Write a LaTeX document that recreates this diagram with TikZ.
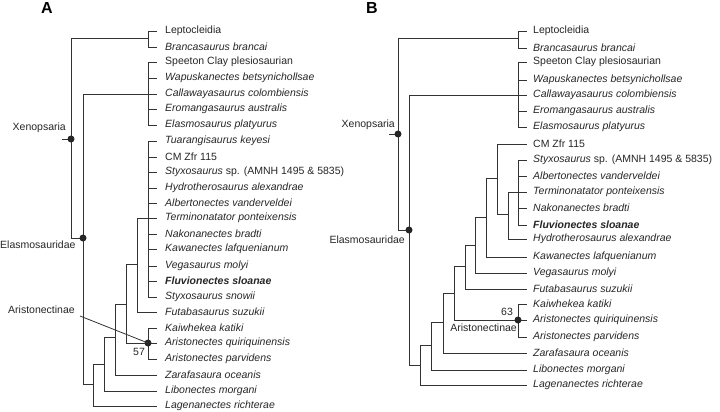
\documentclass[tikz,border=0pt]{standalone}
\usepackage{fontspec}
\setmainfont{Liberation Sans}
\begin{document}
\begin{tikzpicture}[x=1pt,y=-1pt,
  br/.style={line width=0.8pt,draw=black!80},
  lab/.style={anchor=west,inner sep=0pt,font=\fontsize{10.5}{12}\selectfont,text=black!85},
  clab/.style={inner sep=0pt,font=\fontsize{10.5}{12}\selectfont,text=black!85},
  dot/.style={circle,fill=black!85,inner sep=0pt,minimum size=7pt},
  panel/.style={inner sep=0pt,font=\fontsize{16}{18}\bfseries\selectfont}]
\useasboundingbox (0,0) rectangle (720,412);
\node[panel,anchor=north west] (pA) at (41,2) {A};
\node[panel,anchor=north west] (pB) at (366,2) {B};
% ---------- Panel A ----------
\foreach \y/\t [count=\i] in {31/Leptocleidia,47/\textit{Brancasaurus brancai},62/Speeton Clay plesiosaurian,78/\textit{Wapuskanectes betsynichollsae},94/\textit{Callawayasaurus colombiensis},109/\textit{Eromangasaurus australis},125/\textit{Elasmosaurus platyurus},141/\textit{Tuarangisaurus keyesi},157/CM Zfr 115,172/\textit{Styxosaurus} sp. (AMNH 1495 \& 5835),188/\textit{Hydrotherosaurus alexandrae},203/\textit{Albertonectes vanderveldei},218/\textit{Terminonatator ponteixensis},234/\textit{Nakonanectes bradti},249/\textit{Kawanectes lafquenianum},266/\textit{Vegasaurus molyi},281/\textbf{\textit{Fluvionectes sloanae}},297/\textit{Styxosaurus snowii},328/\textit{Kaiwhekea katiki},343/\textit{Aristonectes quiriquinensis},359/\textit{Aristonectes parvidens}}
  {\draw[br] (148,\y) -- (157,\y); \node[lab] (a\i) at (165,\y) {\t};}
\node[lab] (aFut) at (165,312) {\textit{Futabasaurus suzukii}};
\node[lab] (aZar) at (165,375) {\textit{Zarafasaura oceanis}};
\node[lab] (aLib) at (165,391) {\textit{Libonectes morgani}};
\node[lab] (aLag) at (165,406) {\textit{Lagenanectes richterae}};
\draw[br] (148,31) -- (148,47) (148,62) -- (148,125) (148,141) -- (148,297) (148,328) -- (148,359);
\draw[br] (62,139) -- (71,139);
\draw[br] (148,38) -- (71,38) -- (71,238) -- (83,238);
\draw[br] (148,94) -- (83,94) -- (83,384) -- (93,384);
\draw[br] (157,406) -- (93,406) -- (93,364) -- (104,364);
\draw[br] (157,391) -- (104,391) -- (104,337) -- (115,337);
\draw[br] (157,375) -- (115,375) -- (115,304) -- (126,304);
\draw[br] (148,343) -- (126,343) -- (126,264) -- (137,264);
\draw[br] (157,312) -- (137,312) -- (137,218) -- (148,218);
\node[dot] (xA) at (71,139) {};
\node[dot] (eA) at (83,238) {};
\node[dot] (arA) at (148,343) {};
\node[clab,anchor=south east] (xAl) at (66,133) {Xenopsaria};
\node[clab,anchor=west] (eAl) at (0,245) {Elasmosauridae};
\node[clab,anchor=west] (arAl) at (8,310) {Aristonectinae};
\node[clab] (nA) at (139,352) {57};
\draw[br] (80,316) -- (arA.center);
% ---------- Panel B ----------
\foreach \y/\t [count=\i] in {31/Leptocleidia,48/\textit{Brancasaurus brancai},62/Speeton Clay plesiosaurian,80/\textit{Wapuskanectes betsynichollsae},95/\textit{Callawayasaurus colombiensis},111/\textit{Eromangasaurus australis},127/\textit{Elasmosaurus platyurus},160/\textit{Styxosaurus} sp. (AMNH 1495 \& 5835),176/\textit{Albertonectes vanderveldei},192/\textit{Terminonatator ponteixensis},208/\textit{Nakonanectes bradti},225/\textbf{\textit{Fluvionectes sloanae}},304/\textit{Kaiwhekea katiki},320/\textit{Aristonectes quiriquinensis},337/\textit{Aristonectes parvidens}}
  {\draw[br] (518,\y) -- (527,\y); \node[lab] (b\i) at (533,\y) {\t};}
\foreach \y/\x/\t [count=\i] in {144/497/CM Zfr 115,239/508/\textit{Hydrotherosaurus alexandrae},257/486/\textit{Kawanectes lafquenianum},273/475/\textit{Vegasaurus molyi},289/465/\textit{Futabasaurus suzukii},353/443/\textit{Zarafasaura oceanis},370/431/\textit{Libonectes morgani},385/420/\textit{Lagenanectes richterae}}
  {\draw[br] (\x,\y) -- (527,\y); \node[lab] (bb\i) at (533,\y) {\t};}
\draw[br] (518,31) -- (518,48) (518,62) -- (518,127) (518,160) -- (518,225) (518,304) -- (518,337);
\draw[br] (389,134) -- (398,134);
\draw[br] (518,38) -- (398,38) -- (398,230) -- (409,230);
\draw[br] (518,95) -- (409,95) -- (409,365) -- (420,365);
\draw[br] (420,385) -- (420,345) -- (431,345);
\draw[br] (431,370) -- (431,322) -- (443,322);
\draw[br] (443,353) -- (443,293) -- (454,293);
\draw[br] (518,320) -- (454,320) -- (454,266) -- (465,266);
\draw[br] (465,289) -- (465,245) -- (475,245);
\draw[br] (475,273) -- (475,217) -- (486,217);
\draw[br] (486,257) -- (486,178) -- (497,178);
\draw[br] (497,144) -- (497,214) -- (508,214);
\draw[br] (508,239) -- (508,192) -- (518,192);
\node[dot] (xB) at (398,134) {};
\node[dot] (eB) at (409,230) {};
\node[dot] (arB) at (518,320) {};
\node[clab,anchor=south east] (xBl) at (395,130) {Xenopsaria};
\node[clab,anchor=east] (eBl) at (405,240) {Elasmosauridae};
\node[clab,anchor=east] (arBl) at (517,328) {Aristonectinae};
\node[clab] (nB) at (507,312) {63};
\end{tikzpicture}
\end{document}
